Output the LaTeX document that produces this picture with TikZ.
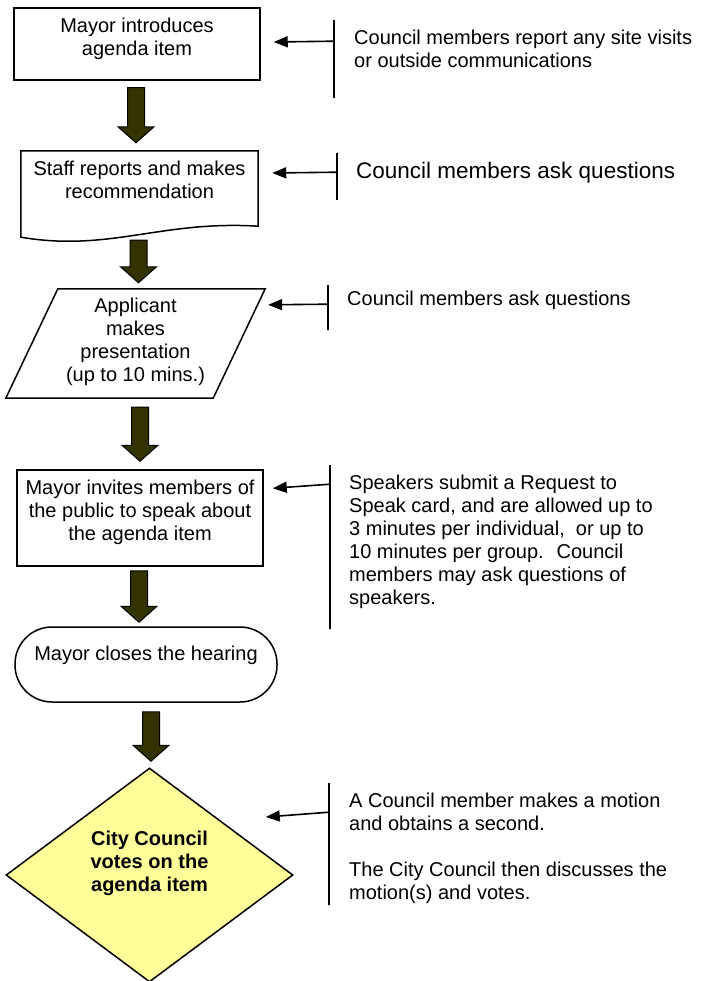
\documentclass[tikz,border=0pt]{standalone}
\usepackage{fontspec}
\setmainfont{Liberation Sans}
\usetikzlibrary{shapes.geometric,arrows.meta,calc}
\definecolor{olivedark}{RGB}{51,51,0}
\definecolor{voteyellow}{RGB}{255,255,153}
\tikzset{
  stepbox/.style={draw, line width=1.5pt, inner sep=0pt},
  frame/.style={inner sep=0pt},
  bar/.style={draw, line width=1.6pt, inner sep=0pt, minimum width=0pt},
  note/.style={anchor=west, align=left, inner sep=0pt},
  sidearrow/.style={line width=1.6pt, -{Triangle[length=14pt,width=11pt]}},
  bigarrow/.style={draw=black, line width=1pt, fill=olivedark, to path={
    let \p1=(\tikztostart), \p2=(\tikztotarget) in
    (\x1-8.5pt,\y1) -- (\x1-8.5pt,\y2+16pt) -- (\x1-18pt,\y2+16pt) -- (\x1,\y2)
    -- (\x1+18pt,\y2+16pt) -- (\x1+8.5pt,\y2+16pt) -- (\x1+8.5pt,\y1) -- cycle}}
}
\begin{document}
\begin{tikzpicture}[x=1pt, y=-1pt, font=\fontsize{20}{23}\selectfont]
   \useasboundingbox (0,0) rectangle (701,981);

   \node[stepbox, minimum width=246pt, minimum height=72pt,
      label={[align=center, yshift=5.5pt]center:Mayor introduces\\agenda item}] (intro) at (137,44) {};
   \node[frame, minimum width=237pt, minimum height=75pt,
      label={[align=center, yshift=8.5pt]center:Staff reports and makes\\recommendation}] (staff) at (139.5,188.5) {};
   \draw[line width=1.5pt] (staff.north west) -- (staff.north east) -- (staff.south east)
      .. controls +(-98,-6) and +(89,15) .. ([yshift=-11pt]staff.south west) -- cycle;
   \node[frame, minimum width=207pt, minimum height=109pt,
      label={[align=center, yshift=1.5pt]center:Applicant\\makes\\presentation\\(up to 10 mins.)}] (applicant) at (135.5,343.5) {};
   \draw[line width=1.5pt] ([xshift=26pt]applicant.north west) -- ([xshift=26pt]applicant.north east)
      -- ([xshift=-26pt]applicant.south east) -- ([xshift=-26pt]applicant.south west) -- cycle;
   \node[stepbox, minimum width=246pt, minimum height=96pt,
      label={[align=center, yshift=6pt]center:Mayor invites members of\\the public to speak about\\the agenda item}] (invite) at (140,518) {};
   \node[stepbox, rounded corners=37pt, minimum width=262pt, minimum height=75pt,
      label={[yshift=9.5pt]center:Mayor closes the hearing}] (closes) at (146,664.5) {};
   \node[draw, diamond, fill=voteyellow, line width=1.5pt, inner sep=0pt, minimum width=287pt, minimum height=214pt,
      label={[align=center, font=\fontsize{20}{23}\selectfont\bfseries, yshift=12pt]center:City Council\\votes on the\\agenda item}] (vote) at (149.5,875) {};

   \draw[bigarrow] ([xshift=-1pt,yshift=-7pt]intro.south) to ([yshift=8pt]staff.north);
   \draw[bigarrow] ([xshift=-1pt,yshift=-14pt]staff.south) to ([yshift=6pt]applicant.north);
   \draw[bigarrow] ([xshift=4.5pt,yshift=-9pt]applicant.south) to ([yshift=8pt]invite.north);
   \draw[bigarrow] ([xshift=-1pt,yshift=-4pt]invite.south) to ([yshift=4pt]closes.north);
   \draw[bigarrow] ([xshift=5pt,yshift=-9pt]closes.south) to ([yshift=6pt]vote.north);

   \node[bar, minimum height=78pt] (bar1) at (334,59) {};
   \node[bar, minimum height=47pt] (bar2) at (337,176.5) {};
   \node[bar, minimum height=45pt] (bar3) at (328,307.5) {};
   \node[bar, minimum height=164pt] (bar4) at (330,547) {};
   \node[bar, minimum height=122pt] (bar5) at (329,844) {};

   \node[note] (note1) at (354,48.5) {Council members report any site visits\\or outside communications};
   \node[note, font=\fontsize{22.5}{26}\selectfont] (note2) at (356,173) {Council members ask questions};
   \node[note] (note3) at (347,300) {Council members ask questions};
   \node[note] (note4) at (349,542) {Speakers submit a Request to\\Speak card, and are allowed up to\\3 minutes per individual, \ or up to\\10 minutes per group. \ Council\\members may ask questions of\\speakers.};
   \node[note] (note5) at (349,848) {A Council member makes a motion\\and obtains a second.\\[23pt]The City Council then discusses the\\motion(s) and votes.};

   \draw[sidearrow] ([yshift=-22pt]bar1.north) -- ([xshift=13pt,yshift=2pt]intro.east);
   \draw[sidearrow] ([yshift=-20pt]bar2.north) -- ([xshift=14pt,yshift=15.5pt]staff.east);
   \draw[sidearrow] ([yshift=-20pt]bar3.north) -- ([xshift=29pt,yshift=-16pt]applicant.north east);
   \draw[sidearrow] ([yshift=-20pt]bar4.north) -- ([xshift=9pt,yshift=-19pt]invite.north east);
   \draw[sidearrow] ([yshift=-30pt]bar5.north) -- ([xshift=-28pt,yshift=58pt]vote.east);
\end{tikzpicture}
\end{document}
